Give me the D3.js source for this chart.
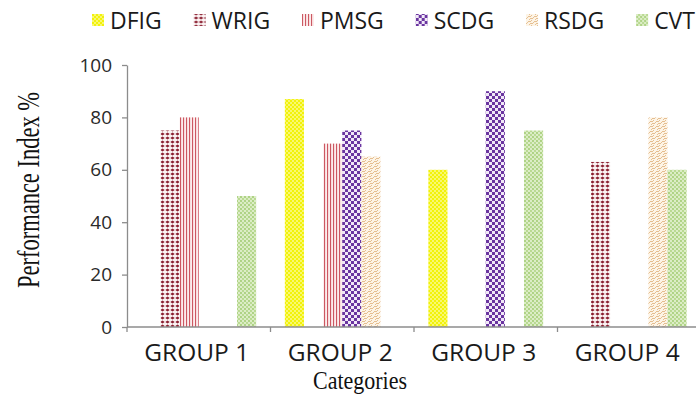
<!DOCTYPE html>
<html>
<head>
<meta charset="utf-8">
<script src="https://cdn.jsdelivr.net/npm/d3@7/dist/d3.min.js"></script>
<style>
  html, body { margin: 0; padding: 0; background: #ffffff; }
  svg { display: block; }
</style>
</head>
<body>
<svg id="chart" width="696" height="394"></svg>
<script>
// Performance index per generator type, grouped by category
const categories = ["GROUP 1", "GROUP 2", "GROUP 3", "GROUP 4"];
const seriesNames = ["DFIG", "WRIG", "PMSG", "SCDG", "RSDG", "CVT"];
const DFIG = [null, 87, 60, null];
const WRIG = [75, null, null, 63];
const PMSG = [80, 70, null, null];
const SCDG = [null, 75, 90, null];
const RSDG = [null, 65, null, 80];
const CVT  = [50, null, 75, 60];
const yTicks = [0, 20, 40, 60, 80, 100];

const seriesValues = { DFIG, WRIG, PMSG, SCDG, RSDG, CVT };

const svg = d3.select("#chart");
const defs = svg.append("defs");

// ---- fill patterns for each series ----
function pattern(id, w, h, bg) {
  const p = defs.append("pattern")
    .attr("id", id)
    .attr("patternUnits", "userSpaceOnUse")
    .attr("width", w).attr("height", h);
  p.append("rect").attr("width", w).attr("height", h).attr("fill", bg);
  return p;
}

// DFIG: bright yellow with fine lighter checks
{
  const p = pattern("pat-DFIG", 4, 4, "#f2f20a");
  p.append("rect").attr("x", 0).attr("y", 0).attr("width", 2).attr("height", 2).attr("fill", "#f8f870");
  p.append("rect").attr("x", 2).attr("y", 2).attr("width", 2).attr("height", 2).attr("fill", "#f8f870");
}
// WRIG: dark red diamonds on white
{
  const p = pattern("pat-WRIG", 5, 4, "#fbf3f3");
  p.append("path").attr("d", "M0.3,2 L2.5,0.4 L4.7,2 L2.5,3.6 Z").attr("fill", "#8a1f30");
}
// PMSG: vertical red stripes
{
  const p = pattern("pat-PMSG", 3, 3, "#fcecec");
  p.append("rect").attr("x", 0).attr("y", 0).attr("width", 1.1).attr("height", 3).attr("fill", "#cc5862");
}
// SCDG: purple checkerboard
{
  const p = pattern("pat-SCDG", 6, 6, "#f1e8f7");
  p.append("rect").attr("x", 0).attr("y", 0).attr("width", 3).attr("height", 3).attr("fill", "#6a35a0");
  p.append("rect").attr("x", 3).attr("y", 3).attr("width", 3).attr("height", 3).attr("fill", "#6a35a0");
}
// RSDG: tan zigzag diagonals
{
  const p = pattern("pat-RSDG", 6, 5, "#fdf4e6");
  p.append("path").attr("d", "M-1,5 L3,1 L4,2 L7,-1 M2,6 L5,3 L6,4 L8,2")
    .attr("fill", "none").attr("stroke", "#e2b887").attr("stroke-width", 0.9);
}
// CVT: light green speckles
{
  const p = pattern("pat-CVT", 4, 4, "#dcedc6");
  p.append("circle").attr("cx", 1).attr("cy", 1).attr("r", 0.9).attr("fill", "#99c766");
  p.append("circle").attr("cx", 3).attr("cy", 3).attr("r", 0.9).attr("fill", "#a9d17a");
}

// ---- scales ----
const x = d3.scaleBand()
  .domain(categories)
  .range([127, 701])
  .paddingInner(0.2)
  .paddingOuter(0.1);

const xSeries = d3.scaleBand()
  .domain(seriesNames)
  .range([0, x.bandwidth()]);

const y = d3.scaleLinear()
  .domain([0, 100])
  .range([327, 65]);

const axisColor = "#8c8c8c";
const sansFont = "'Open Sans', 'DejaVu Sans', sans-serif";
const serifFont = "'Liberation Serif', 'DejaVu Serif', serif";

// ---- bars ----
const barData = [];
categories.forEach((cat, i) => {
  seriesNames.forEach(name => {
    const v = seriesValues[name][i];
    if (v != null) barData.push({ cat, name, value: v });
  });
});

svg.append("g")
  .selectAll("rect")
  .data(barData)
  .join("rect")
  .attr("x", d => x(d.cat) + xSeries(d.name))
  .attr("y", d => y(d.value))
  .attr("width", xSeries.bandwidth())
  .attr("height", d => y(0) - y(d.value))
  .attr("fill", d => `url(#pat-${d.name})`);

// ---- y axis ----
const yAxis = svg.append("g")
  .attr("transform", `translate(${x.range()[0]},0)`)
  .call(d3.axisLeft(y).tickValues(yTicks).tickSize(5).tickPadding(10).tickSizeOuter(0));
yAxis.select(".domain").attr("stroke", axisColor).attr("stroke-width", 1.3);
yAxis.selectAll(".tick line").attr("stroke", axisColor).attr("stroke-width", 1.3);
yAxis.selectAll(".tick text")
  .attr("fill", "#2a2a2a")
  .style("font-family", sansFont)
  .style("font-size", "19px");

// ---- x axis: baseline with ticks on category boundaries ----
const xAxisG = svg.append("g");
const gap = x.step() - x.bandwidth();
xAxisG.append("line")
  .attr("x1", x.range()[0]).attr("x2", 696)
  .attr("y1", y(0)).attr("y2", y(0))
  .attr("stroke", axisColor).attr("stroke-width", 1.3);
xAxisG.selectAll("line.bound")
  .data(categories)
  .join("line")
  .attr("class", "bound")
  .attr("x1", d => x(d) - gap / 2).attr("x2", d => x(d) - gap / 2)
  .attr("y1", y(0)).attr("y2", y(0) + 5)
  .attr("stroke", axisColor).attr("stroke-width", 1.3);
xAxisG.selectAll("text")
  .data(categories)
  .join("text")
  .attr("x", d => x(d) + x.bandwidth() / 2 - 2)
  .attr("y", 361)
  .attr("text-anchor", "middle")
  .attr("fill", "#1a1a1a")
  .style("font-family", sansFont)
  .style("font-size", "24.5px")
  .text(d => d);

// ---- axis titles ----
svg.append("text")
  .attr("transform", "translate(39,190) rotate(-90)")
  .attr("text-anchor", "middle")
  .attr("textLength", 196)
  .attr("lengthAdjust", "spacingAndGlyphs")
  .attr("fill", "#111")
  .style("font-family", serifFont)
  .style("font-size", "31px")
  .text("Performance Index %");

svg.append("text")
  .attr("x", 360)
  .attr("y", 388.5)
  .attr("text-anchor", "middle")
  .attr("textLength", 94)
  .attr("lengthAdjust", "spacingAndGlyphs")
  .attr("fill", "#111")
  .style("font-family", serifFont)
  .style("font-size", "26px")
  .text("Categories");

// ---- legend: items spread across the top strip ----
const legend = svg.append("g");
const legendStart = 92, legendEnd = 695, swatch = 12, swatchGap = 6;
const items = seriesNames.map(name => {
  const g = legend.append("g");
  g.append("rect")
    .attr("y", 14)
    .attr("width", swatch).attr("height", swatch)
    .attr("fill", `url(#pat-${name})`);
  const t = g.append("text")
    .attr("x", swatch + swatchGap).attr("y", 28.5)
    .attr("fill", "#1a1a1a")
    .style("font-family", sansFont)
    .style("font-size", "23px")
    .text(name);
  return { g, w: swatch + swatchGap + t.node().getComputedTextLength() };
});
const totalW = d3.sum(items, d => d.w);
const itemGap = (legendEnd - legendStart - totalW) / (items.length - 1);
let lx = legendStart;
items.forEach(it => {
  it.g.attr("transform", `translate(${lx},0)`);
  lx += it.w + itemGap;
});
</script>
</body>
</html>
